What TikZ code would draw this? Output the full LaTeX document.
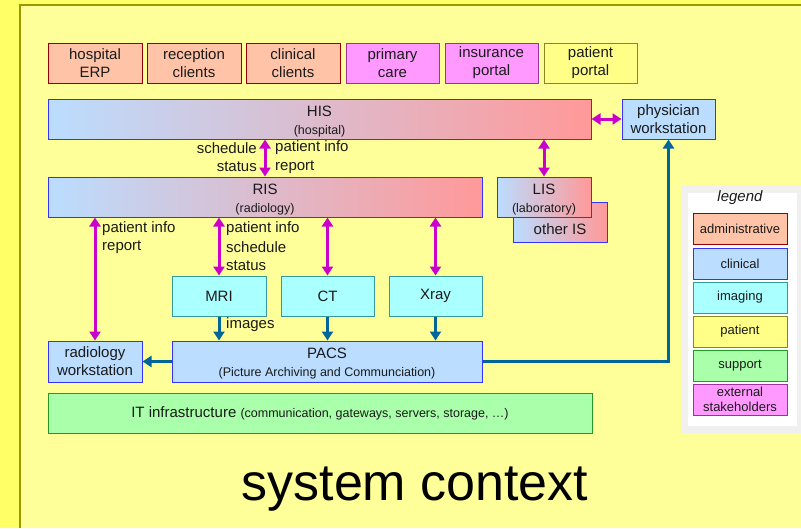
\documentclass[tikz,border=0pt]{standalone}
\usepackage{fontspec}
\setmainfont{Liberation Sans}
\usetikzlibrary{arrows.meta,calc}
\definecolor{bgbright}{HTML}{FFFF66}
\definecolor{bgpale}{HTML}{FFFF99}
\definecolor{olivel}{HTML}{999900}
\definecolor{admF}{HTML}{FFC4A8}
\definecolor{admD}{HTML}{990000}
\definecolor{cliF}{HTML}{BBDDFF}
\definecolor{cliD}{HTML}{3333FF}
\definecolor{imgF}{HTML}{AAFFFF}
\definecolor{imgD}{HTML}{339999}
\definecolor{patF}{HTML}{FFFF88}
\definecolor{patD}{HTML}{888822}
\definecolor{supF}{HTML}{AAFFAA}
\definecolor{supD}{HTML}{229922}
\definecolor{extF}{HTML}{FF99FF}
\definecolor{extD}{HTML}{993399}
\definecolor{salmonr}{HTML}{FF9999}
\definecolor{magc}{HTML}{CC00CC}
\definecolor{tarrc}{HTML}{006699}
\definecolor{txt}{HTML}{1A1A1A}
\newcommand\subf{\fontsize{12.5}{15}\selectfont}
\newcommand\mainf{\fontsize{15}{18}\selectfont}
\tikzset{
  box/.style={line width=1pt, minimum height=40pt, inner sep=0pt, align=center, font=\mainf, text=txt},
  adm/.style={box, fill=admF, draw=admD},
  cli/.style={box, fill=cliF, draw=cliD},
  img/.style={box, fill=imgF, draw=imgD},
  pat/.style={box, fill=patF, draw=patD},
  sup/.style={box, fill=supF, draw=supD},
  ext/.style={box, fill=extF, draw=extD},
  grad/.style={box, draw=cliD, left color=cliF, right color=salmonr},
  leg/.style={line width=1pt, minimum width=94pt, minimum height=31pt, inner sep=0pt, align=center, font=\fontsize{13}{15}\selectfont, text=txt},
  marr/.style={draw=magc, line width=3pt, {Triangle[length=9pt,width=11pt]}-{Triangle[length=9pt,width=11pt]}},
  tarr/.style={draw=tarrc, line width=3pt, -{Triangle[length=9pt,width=11pt]}},
  lbl/.style={font=\mainf, inner sep=0pt, text=txt},
}
\begin{document}
\begin{tikzpicture}[x=1pt,y=-1pt]
\useasboundingbox (0,0) rectangle (801,528);
\fill[bgbright] (0,0) rectangle (801,528);
\fill[bgpale] (20,5) rectangle (801,528);
\draw[olivel, line width=2pt] (20,528) -- (20,5) -- (801,5);

% top row
\node[adm, minimum width=94pt] (erp) at (95,63) {hospital\\ERP};
\node[adm, minimum width=94pt] (rec) at (194,63) {reception\\clients};
\node[adm, minimum width=94pt] (clc) at (293,63) {clinical\\clients};
\node[ext, minimum width=93pt] (prim) at (392.5,63) {primary\\care};
\node[ext, minimum width=93pt] (ins) at (491.5,63) {insurance\\portal};
\node[pat, minimum width=93pt] (pp) at (590.5,63) {patient\\portal};

% HIS row
\node[grad, minimum width=543pt] (his) at (319.5,119) {\rule{0pt}{15pt}HIS\\{\subf (hospital)}};
\node[cli, minimum width=93pt] (phys) at (668.5,119) {physician\\workstation};

% RIS row
\node[grad, minimum width=94pt] (oth) at (560,222) {};
\node[lbl] (othl) at (560,229) {other IS};
\node[grad, minimum width=94pt] (lis) at (544,197) {\rule{0pt}{15pt}LIS\\{\subf (laboratory)}};
\node[grad, minimum width=434pt] (ris) at (265,197) {\rule{0pt}{15pt}RIS\\{\subf (radiology)}};

% modalities
\node[img, minimum width=94pt] (mri) at (219,296) {MRI};
\node[img, minimum width=93pt] (ct) at (327.5,296) {CT};
\node[img, minimum width=93pt] (xray) at (435.5,296) {Xray};

% bottom
\node[cli, minimum width=94pt, minimum height=41pt] (radws) at (95,361.5) {radiology\\workstation};
\node[cli, minimum width=310pt, minimum height=41pt] (pacs) at (327,361.5) {\rule{0pt}{15pt}PACS\\{\subf (Picture Archiving and Communciation)}};
\node[sup, minimum width=544pt] (it) at (320,413) {IT infrastructure {\subf (communication, gateways, servers, storage, \dots)}};

% arrows
\coordinate (hr) at (265,0);
\draw[marr] (hr |- his.south) -- (hr |- ris.north);
\node[lbl, anchor=east] (sch) at (257,148) {schedule};
\node[lbl, anchor=east] (sta) at (257,167) {status};
\node[lbl, anchor=west] (pin1) at (275,148) {patient info};
\node[lbl, anchor=west] (rep1) at (275,167) {report};
\draw[marr] (his.east) -- (phys.west);
\draw[marr] (lis.north |- his.south) -- (lis.north);

\draw[marr] (radws.north |- ris.south) -- (radws.north);
\node[lbl, anchor=west] (pin2) at (102,229) {patient info};
\node[lbl, anchor=west] (rep2) at (102,247) {report};
\draw[marr] (mri.north |- ris.south) -- (mri.north);
\node[lbl, anchor=west] (pin3) at (226,229) {patient info};
\node[lbl, anchor=west] (sch3) at (226,247) {schedule};
\node[lbl, anchor=west] (sta3) at (226,266) {status};
\draw[marr] (ct.north |- ris.south) -- (ct.north);
\draw[marr] (xray.north |- ris.south) -- (xray.north);

\draw[tarr] (mri.south) -- (mri.south |- pacs.north);
\node[lbl, anchor=west] (imgs) at (226,325) {images};
\draw[tarr] (ct.south) -- (ct.south |- pacs.north);
\draw[tarr] (xray.south) -- (xray.south |- pacs.north);
\draw[tarr] (pacs.west) -- (radws.east);
\draw[tarr] (pacs.east) -| (phys.south);

% legend
\node[fill=white, draw=black!6, line width=7pt, minimum width=116pt, minimum height=240pt, inner sep=0pt] (legbg) at (742.5,309.5) {};
\node[font=\mainf\itshape, text=txt, inner sep=0pt] (legt) at (740,198) {legend};
\node[leg, fill=admF, draw=admD] (l1) at (740,228.5) {administrative};
\node[leg, fill=cliF, draw=cliD] (l2) at (740,263.5) {clinical};
\node[leg, fill=imgF, draw=imgD] (l3) at (740,297.5) {imaging};
\node[leg, fill=patF, draw=patD] (l4) at (740,331.5) {patient};
\node[leg, fill=supF, draw=supD] (l5) at (740,365.5) {support};
\node[leg, fill=extF, draw=extD] (l6) at (740,399.5) {external\\stakeholders};

% title
\node[font=\fontsize{52}{60}\selectfont, text=black, inner sep=0pt, anchor=base] (title) at (415,500) {system context};
\end{tikzpicture}
\end{document}
